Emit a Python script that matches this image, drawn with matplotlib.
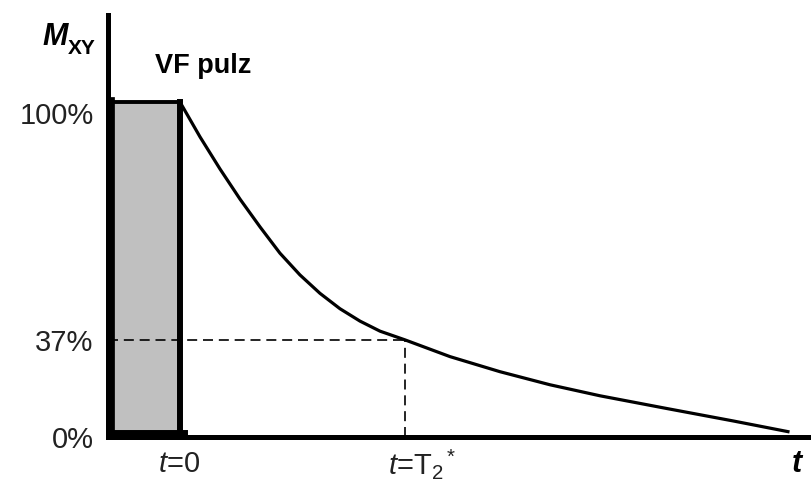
import matplotlib
matplotlib.use("Agg")
import matplotlib.pyplot as plt

plt.rcParams['font.family'] = ['Liberation Sans', 'DejaVu Sans']
plt.rcParams['mathtext.fontset'] = 'custom'
plt.rcParams['mathtext.rm'] = 'Liberation Sans'
plt.rcParams['mathtext.it'] = 'Liberation Sans:italic'
plt.rcParams['mathtext.bf'] = 'Liberation Sans:bold'

# decay curve (t in units of T2*, signal in % of axis height)
t_curve = [0.0, 0.089, 0.178, 0.267, 0.356, 0.444, 0.533, 0.622, 0.711, 0.80,
           0.889, 1.0, 1.2, 1.422, 1.644, 1.867, 2.164, 2.458, 2.702]
m_curve = [100, 89.6, 80.0, 71.0, 62.7, 54.9, 48.4, 42.9, 38.3, 34.6,
           31.6, 29.0, 24.0, 19.5, 15.6, 12.3, 8.5, 4.8, 1.6]

pulse_start = -0.31
pulse_end = 0.0
pulse_height = 100

t2_star = 1.0
level_37 = 29.0   # where the "37%" line sits in the drawing

ytick_pos = [0, level_37, 100]
ytick_labels = ['0%', '37%', '100%']

fig = plt.figure(figsize=(8.11, 4.86), dpi=100)
ax = fig.add_axes([107.5 / 811, 49 / 486, (811 - 107.5) / 811, 422 / 486])
ax.set_xlim((107.5 - 180) / 225, (811 - 180) / 225)
ax.set_ylim(0, 126)

# pulse box
ax.fill_between([pulse_start, pulse_end], 0, pulse_height, color='#c0c0c0', lw=0, zorder=1)
ax.plot([pulse_start, pulse_start], [0, pulse_height], color='black', lw=7, zorder=4)
ax.plot([pulse_start, pulse_end], [pulse_height, pulse_height], color='black', lw=2.8,
        solid_capstyle='projecting', zorder=4)
ax.plot([pulse_end, pulse_end], [0, pulse_height], color='black', lw=4.3,
        solid_capstyle='projecting', zorder=4)
ax.plot([pulse_start - 0.02, pulse_end + 0.01], [0.3, 0.3], color='black', lw=8.6, zorder=4)

# decay
ax.plot(t_curve, m_curve, color='black', lw=2.3, zorder=3, solid_joinstyle='round')

# 37% guide lines
ax.plot([pulse_start - 0.01, t2_star], [level_37, level_37], color='black', lw=1.2,
        dashes=(6, 3.5), zorder=5)
ax.plot([t2_star, t2_star], [0, level_37], color='black', lw=1.2, dashes=(6, 3.5), zorder=2)

for s in ['top', 'right']:
    ax.spines[s].set_visible(False)
ax.spines['left'].set_linewidth(3.6)
ax.spines['bottom'].set_linewidth(3.6)
ax.set_xticks([])
ax.set_yticks(ytick_pos)
ax.set_yticklabels(ytick_labels, fontsize=21, color='#222222')
ax.tick_params(axis='y', length=0, pad=10)
ax.get_yticklabels()[2].set_va('top')

# text labels
ax.text(-0.613, 117, 'M', fontsize=22, fontweight='bold', fontstyle='italic', ha='left', va='baseline')
ax.text(-0.50, 114.3, 'XY', fontsize=15, fontweight='bold', ha='left', va='baseline')
ax.text(-0.111, 108.7, 'VF pulz', fontsize=19.5, fontweight='bold', ha='left', va='baseline')
ax.text(-0.005, -8, '$t$=0', fontsize=21, ha='center', va='center', color='#222222')
ax.text((388 - 180) / 225, -8, '$t$=T$_2$$^*$', fontsize=21, ha='left', va='center', color='#222222')
ax.text((797 - 180) / 225, -8, 't', fontsize=22, fontweight='bold', fontstyle='italic',
        ha='center', va='center')

fig.savefig('out.png', dpi=100)
